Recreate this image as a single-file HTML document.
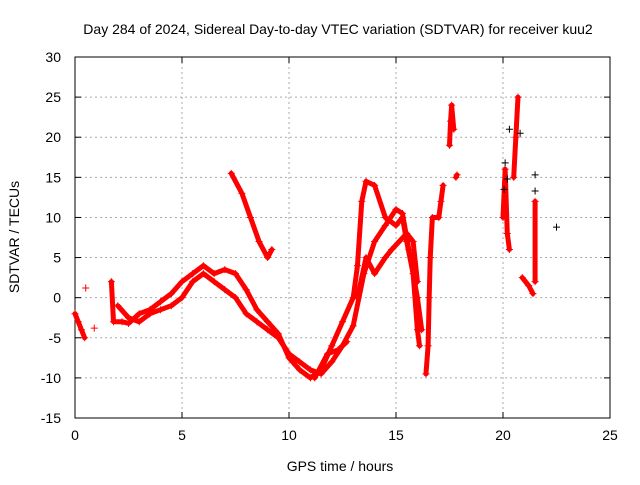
<!DOCTYPE html>
<html><head><meta charset="utf-8"><style>
body{margin:0;background:#fff;}
svg text{font-family:"Liberation Sans",sans-serif;font-size:14px;fill:#000;}
</style></head><body>
<svg id="chart" width="640" height="480" xmlns="http://www.w3.org/2000/svg">
<rect width="640" height="480" fill="#fff"/>
<g id="grid"></g><g id="axes"></g><g id="series"></g>
<text x="338" y="34" text-anchor="middle">Day 284 of 2024, Sidereal Day-to-day VTEC variation (SDTVAR) for receiver kuu2</text>
<text x="340" y="471" text-anchor="middle">GPS time / hours</text>
<text transform="translate(19,237) rotate(-90)" text-anchor="middle">SDTVAR / TECUs</text>
</svg>
<script>
const xTicks=[0,5,10,15,20,25];
const yTicks=[-15,-10,-5,0,5,10,15,20,25,30];
const trackA=[[0,-2],[0.15,-3],[0.3,-4],[0.45,-5],[1.7,2],[1.8,-3],[2.2,-3],[2.5,-3.2],[3,-2],[3.5,-1.5],[4,-0.5],[4.5,0.5],[5,2],[5.5,3],[6,4],[6.5,3],[7,3.5],[7.5,3],[8,1],[8.5,-1.5],[9,-3],[9.5,-4.5],[10,-7.5],[10.5,-9],[11,-10],[11.5,-9],[12,-6],[12.5,-3],[13,0],[13.2,4],[13.4,12],[13.6,14.5],[14,14],[14.5,10],[15,9],[15.3,10],[15.5,7],[15.8,3],[16,-4],[16.1,-6]];
const trackB=[[2,-1],[2.5,-2.5],[3,-3],[3.5,-2],[4,-1.5],[4.5,-1],[5,0],[5.5,2],[6,3],[6.5,2],[7,1],[7.5,0],[8,-2],[8.5,-3],[9,-4],[9.5,-5],[10,-7],[10.5,-8],[11,-9],[11.5,-9.5],[12,-8],[12.5,-6],[13,-3.5],[13.5,3],[14,7],[14.5,9],[15,11],[15.3,10.5],[15.6,6],[16,0],[16.2,-4]];
const trackC=[[7.3,15.5],[7.8,13],[8.2,10],[8.6,7],[9,5],[9.2,6]];
const trackD=[[11.2,-10],[11.8,-7],[12.3,-6.5],[12.7,-5.5]];
const trackE=[[13.2,0],[13.6,5],[14,3],[14.5,5],[14.8,6],[15.5,8],[15.8,7],[16,2]];
const trackF=[[16.4,-9.5],[16.5,-6],[16.55,0],[16.6,5],[16.7,10],[17,10],[17.1,12],[17.2,14]];
const trackG=[[17.5,19],[17.55,22],[17.6,24],[17.7,21]];
const trackG2=[[17.8,15],[17.85,15.3]];
const trackH=[[20,10],[20.1,16],[20.2,8],[20.3,6]];
const trackI=[[20.5,15],[20.6,20],[20.7,25]];
const trackJ=[[20.9,2.5],[21.2,1.5],[21.4,0.5]];
const trackK=[[21.5,2],[21.5,12]];
const blackPts=[[22.5,8.8],[21.5,15.3],[21.5,13.3],[20.8,20.5],[20.3,21],[20.1,16.8],[20.05,13.5],[20.2,14.8]];
const NS='http://www.w3.org/2000/svg';
const X0=75,X1=610,Y0=418,Y1=57;
const sx=v=>X0+(v-0)/25*(X1-X0);
const sy=v=>Y0-(v+15)/45*(Y0-Y1);
function mk(t,a,p){const e=document.createElementNS(NS,t);for(const k in a)e.setAttribute(k,a[k]);p.appendChild(e);return e;}
const grid=document.getElementById('grid'),axes=document.getElementById('axes'),ser=document.getElementById('series');
xTicks.forEach(v=>{
 if(v>0&&v<25){const l=mk('line',{x1:sx(v),x2:sx(v),y1:Y1,y2:Y0,stroke:'#aaa','stroke-dasharray':'2,3'},grid);
 
 }
 const t=mk('text',{x:sx(v),y:Y0+22,'text-anchor':'middle'},axes);t.textContent=v;
 
 
 mk('line',{x1:sx(v),x2:sx(v),y1:Y0,y2:Y0-6,stroke:'#000'},axes);
 mk('line',{x1:sx(v),x2:sx(v),y1:Y1,y2:Y1+6,stroke:'#000'},axes);
});
yTicks.forEach(v=>{
 if(v>-15&&v<30){const l=mk('line',{x1:X0,x2:X1,y1:sy(v),y2:sy(v),stroke:'#aaa','stroke-dasharray':'2,3'},grid);
 
 }
 const t=mk('text',{x:X0-14,y:sy(v)+5,'text-anchor':'end'},axes);t.textContent=v;
 
 
 mk('line',{x1:X0,x2:X0+6,y1:sy(v),y2:sy(v),stroke:'#000'},axes);
 mk('line',{x1:X1,x2:X1-6,y1:sy(v),y2:sy(v),stroke:'#000'},axes);
});
const fr=mk('rect',{x:X0,y:Y1,width:X1-X0,height:Y0-Y1,fill:'none',stroke:'#000'},axes);


function plus(x,y,c){const p=mk('path',{d:`M${sx(x)-3.5},${sy(y)}h7M${sx(x)},${sy(y)-3.5}v7`,stroke:c,'stroke-width':1},ser);
 
 }
function track(arr,name){
 const pl=mk('polyline',{points:arr.map(p=>sx(p[0])+','+sy(p[1])).join(' '),fill:'none',stroke:'#f00','stroke-width':5,'stroke-linejoin':'round','stroke-linecap':'round'},ser);
 
 
 arr.forEach(p=>plus(p[0],p[1],'#f00'));
}
track(trackA.slice(0,4),'track-a-start');track(trackA.slice(4),'track-a');
track(trackB,'track-b');track(trackC,'track-c');track(trackD,'track-d');track(trackE,'track-e');
track(trackF,'track-f');track(trackG,'track-g');track(trackG2,'track-g2');track(trackH,'track-h');
track(trackI,'track-i');track(trackJ,'track-j');track(trackK,'track-k');
plus(0.5,1.2,'#f00');plus(0.9,-3.8,'#f00');
blackPts.forEach(p=>plus(p[0],p[1],'#000'));
</script>
</body></html>
